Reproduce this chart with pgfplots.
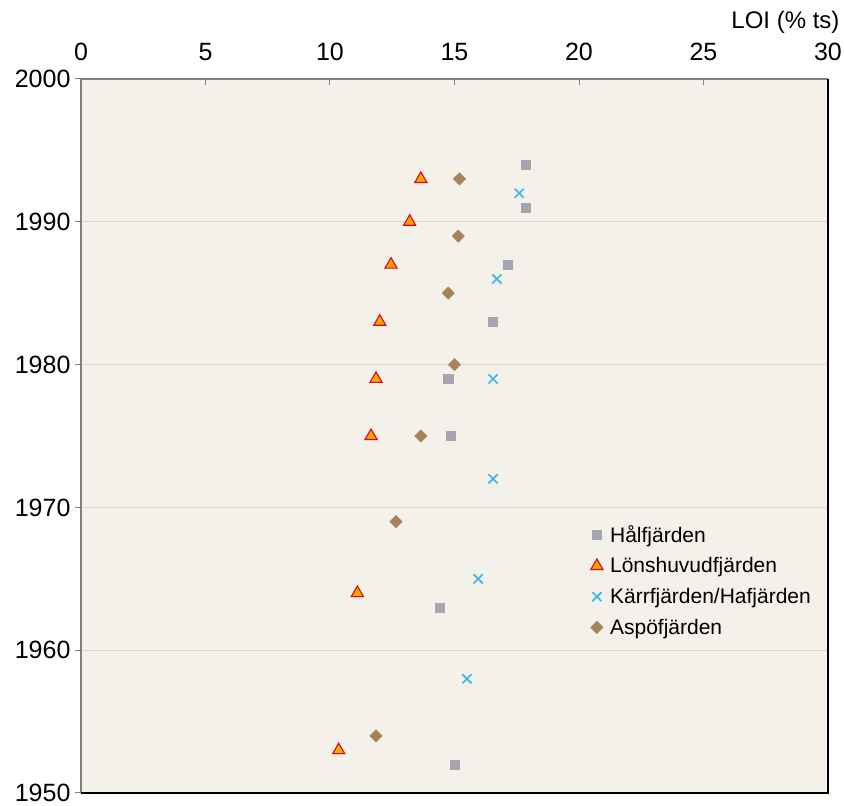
\documentclass[border=0pt]{standalone}
\usepackage{pgfplots}
\pgfplotsset{compat=1.18}
\usepackage{fontspec}
\setmainfont{Liberation Sans}
\definecolor{plotbg}{HTML}{F4F0EA}
\definecolor{gridc}{HTML}{D9D6D2}
\definecolor{halc}{HTML}{A6A5AF}
\definecolor{lonfill}{HTML}{F2A900}
\definecolor{lonedge}{HTML}{E3001B}
\definecolor{karc}{HTML}{3DB5EA}
\definecolor{aspc}{HTML}{A5845A}
\definecolor{axgrey}{HTML}{7F7F7F}

\begin{document}
\begin{tikzpicture}[x=1pt,y=1pt]
\useasboundingbox (-81,-13) rectangle (763,793);
\begin{axis}[
  at={(0,0)}, anchor=south west,
  scale only axis,
  width=747pt, height=714pt,
  xmin=0, xmax=30, ymin=1950, ymax=2000,
  xtick={0,5,...,30}, ytick={1950,1960,...,2000},
  axis background/.style={fill=plotbg},
  axis x line*=top, axis y line*=left,
  axis line style={axgrey, line width=1.2pt, -},
  x tick label style={font=\fontsize{25}{28}\selectfont, yshift=15pt},
  y tick label style={font=\fontsize{25}{28}\selectfont, xshift=-1pt},
  /pgf/number format/assume math mode=true,
  /pgf/number format/1000 sep={},
  xtick style={axgrey, line width=1pt},
  ytick style={axgrey, line width=1pt},
  xtick align=inside, ytick align=outside,
  major tick length=6pt,
  ymajorgrids, grid style={gridc, line width=1pt},
  xlabel={LOI (\% ts)},
  xlabel style={font=\fontsize{24}{27}\selectfont, at={(rel axis cs:1,1)}, anchor=south east, xshift=15pt, yshift=42pt},
  legend cell align=left,
  legend style={at={(rel axis cs:0.678,0.381)}, anchor=north west, draw=none, fill=none,
    font=\fontsize{21}{24}\selectfont, row sep=10pt,
    /tikz/every odd column/.append style={column sep=5pt}},
  clip=false,
]
% Hålfjärden
\addplot[only marks, mark=square*, mark size=4.6pt, mark options={fill=halc, draw=halc}] coordinates {
  (17.85,1994) (17.85,1991) (17.15,1987) (16.55,1983) (14.75,1979)
  (14.85,1975) (14.4,1963) (15.0,1952)
};
\addlegendentry{Hålfjärden}
% Lönshuvudfjärden
\addplot[only marks, mark=triangle*, mark size=7pt, mark options={fill=lonfill, draw=lonedge, line width=1.1pt}] coordinates {
  (13.65,1993) (13.2,1990) (12.45,1987) (12.0,1983) (11.85,1979)
  (11.65,1975) (11.1,1964) (10.35,1953)
};
\addlegendentry{Lönshuvudfjärden}
% Kärrfjärden/Hafjärden
\addplot[only marks, mark=x, mark size=6.5pt, mark options={draw=karc, line width=1.7pt}] coordinates {
  (17.6,1992) (16.7,1986) (16.55,1979) (16.55,1972) (15.95,1965) (15.5,1958)
};
\addlegendentry{Kärrfjärden/Hafjärden}
% Aspöfjärden
\addplot[only marks, mark=square*, mark size=4.4pt, mark options={fill=aspc, draw=aspc, rotate=45}] coordinates {
  (15.2,1993) (15.15,1989) (14.75,1985) (15.0,1980) (13.65,1975)
  (12.65,1969) (11.85,1954)
};
\addlegendentry{Aspöfjärden}
% plot-area frame on the right and bottom
\draw[black, line width=1.5pt] (rel axis cs:0,0) -- (rel axis cs:1,0) -- (rel axis cs:1,1);
\end{axis}
\end{tikzpicture}
\end{document}
